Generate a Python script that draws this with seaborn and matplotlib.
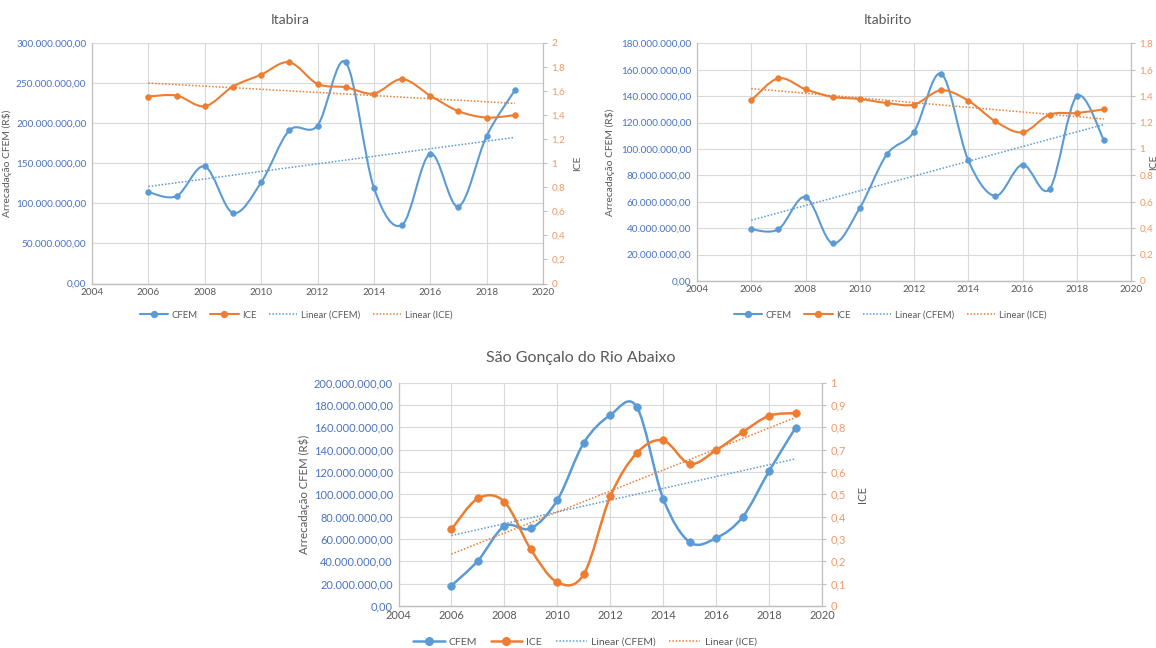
import numpy as np
import pandas as pd
import seaborn as sns
import matplotlib.pyplot as plt
from matplotlib.path import Path
from matplotlib.patches import PathPatch
from matplotlib.lines import Line2D
from matplotlib.ticker import FuncFormatter, MultipleLocator

sns.set_theme(style="white")
plt.rcParams['font.family'] = ['Lato', 'DejaVu Sans']

anos = list(range(2006, 2020))

# Itabira
itabira_cfem = [114, 109, 146, 88, 126, 191, 197, 276, 119.5, 73, 162, 96, 184, 241]
itabira_ice = [1.555, 1.563, 1.474, 1.638, 1.737, 1.84, 1.66, 1.632, 1.58, 1.70, 1.563, 1.433, 1.38, 1.40]

# Itabirito
itabirito_cfem = [39.1, 39.2, 63.6, 28.5, 55.3, 95.9, 113, 157, 91.4, 64.4, 88.1, 69.7, 139.9, 106.8]
itabirito_ice = [1.368, 1.535, 1.452, 1.394, 1.378, 1.348, 1.336, 1.444, 1.366, 1.209, 1.126, 1.26, 1.272, 1.30]

# Sao Goncalo do Rio Abaixo
sgra_cfem = [18.2, 40.5, 71.5, 69.4, 94.8, 146, 170.8, 178.2, 96, 57.2, 60.8, 79.6, 120.7, 159.5]
sgra_ice = [0.343, 0.481, 0.466, 0.253, 0.106, 0.142, 0.49, 0.684, 0.741, 0.636, 0.697, 0.778, 0.851, 0.863]

AZUL = '#5B9BD5'
LARANJA = '#ED7D31'
CINZA = '#595959'
GRADE = '#D9D9D9'


def curva_suave(x, y):
    # curva tipo "linha suavizada" do Excel (Bezier pelos vizinhos)
    p = np.column_stack([x, y]).astype(float)
    ext = np.vstack([p[0], p, p[-1]])
    verts = [p[0]]
    codes = [Path.MOVETO]
    for i in range(len(p) - 1):
        c1 = ext[i + 1] + (ext[i + 2] - ext[i]) / 6
        c2 = ext[i + 2] - (ext[i + 3] - ext[i + 1]) / 6
        verts += [c1, c2, p[i + 1]]
        codes += [Path.CURVE4] * 3
    return Path(verts, codes)


def fmt_reais(v, pos):
    s = f"{v:,.2f}"
    return s.replace(',', 'X').replace('.', ',').replace('X', '.')


def fmt_ice(v, pos):
    return f"{round(v, 2):g}".replace('.', ',')


def grafico(rect, titulo, cfem, ice, ymax, ypasso, icemax, icepasso, tit_xy, leg_xy,
            lab_x, ice_x, fs, lfs, tfs, lw, ms):
    df = pd.DataFrame({'ano': anos, 'cfem': np.array(cfem) * 1e6, 'ice': ice})
    ax = fig.add_axes(rect)
    ax2 = ax.twinx()

    ax.add_patch(PathPatch(curva_suave(df.ano, df.cfem), fill=False, edgecolor=AZUL, lw=lw))
    sns.scatterplot(data=df, x='ano', y='cfem', ax=ax, color=AZUL, s=ms, edgecolor=AZUL, zorder=3)
    sns.regplot(data=df, x='ano', y='cfem', ax=ax, scatter=False, ci=None, truncate=True,
                line_kws={'color': AZUL, 'ls': (0, (1, 1.2)), 'lw': 1.1})

    ax2.add_patch(PathPatch(curva_suave(df.ano, df.ice), fill=False, edgecolor=LARANJA, lw=lw))
    sns.scatterplot(data=df, x='ano', y='ice', ax=ax2, color=LARANJA, s=ms, edgecolor=LARANJA, zorder=3)
    sns.regplot(data=df, x='ano', y='ice', ax=ax2, scatter=False, ci=None, truncate=True,
                line_kws={'color': LARANJA, 'ls': (0, (1, 1.2)), 'lw': 1.1})

    ax.set_xlim(2004, 2020)
    ax.xaxis.set_major_locator(MultipleLocator(2))
    ax.set_ylim(0, ymax * 1e6)
    ax.yaxis.set_major_locator(MultipleLocator(ypasso * 1e6))
    ax.yaxis.set_major_formatter(FuncFormatter(fmt_reais))
    ax2.set_ylim(0, icemax)
    ax2.yaxis.set_major_locator(MultipleLocator(icepasso))
    ax2.yaxis.set_major_formatter(FuncFormatter(fmt_ice))

    ax.grid(True, color=GRADE, lw=0.8)
    ax.set_axisbelow(True)
    for a in (ax, ax2):
        a.spines['top'].set_visible(False)
        for s in ('left', 'right', 'bottom'):
            a.spines[s].set_color('#BFBFBF')
            a.spines[s].set_linewidth(0.8)
    ax.spines['bottom'].set_linewidth(1.0)

    ax.tick_params(axis='x', labelsize=fs, colors=CINZA, length=0, pad=3)
    ax.tick_params(axis='y', labelsize=fs, labelcolor='#4A72C0', length=0, pad=4)
    ax2.tick_params(axis='y', labelsize=fs, labelcolor='#EE9A68', color='#BFBFBF',
                    length=3, width=0.8, pad=3)

    ax.set_xlabel('')
    ax.set_ylabel('Arrecadação CFEM (R$)', fontsize=lfs, color=CINZA)
    ax.yaxis.set_label_coords(lab_x, 0.5)
    ax2.set_ylabel('ICE', fontsize=lfs, color=CINZA)
    ax2.yaxis.set_label_coords(ice_x, 0.5)

    fig.text(tit_xy[0] / 1156, 1 - tit_xy[1] / 648, titulo, ha='center', va='center',
             fontsize=tfs, color=CINZA)

    handles = [
        Line2D([], [], color=AZUL, lw=lw, marker='o', markersize=np.sqrt(ms)),
        Line2D([], [], color=LARANJA, lw=lw, marker='o', markersize=np.sqrt(ms)),
        Line2D([], [], color=AZUL, lw=1.1, ls=(0, (1, 1.2))),
        Line2D([], [], color=LARANJA, lw=1.1, ls=(0, (1, 1.2))),
    ]
    leg = ax.legend(handles, ['CFEM', 'ICE', 'Linear (CFEM)', 'Linear (ICE)'], loc='center',
                    bbox_to_anchor=(leg_xy[0] / 1156, 1 - leg_xy[1] / 648),
                    bbox_transform=fig.transFigure, ncol=4, frameon=False, fontsize=fs - 0.4,
                    handlelength=3.0, columnspacing=1.3, handletextpad=0.4)
    for t in leg.get_texts():
        t.set_color(CINZA)


fig = plt.figure(figsize=(11.56, 6.48), dpi=100)

grafico([92 / 1156, 1 - 283.5 / 648, 451 / 1156, 240.5 / 648], 'Itabira',
        itabira_cfem, itabira_ice, 300, 50, 2, 0.2, (290, 20), (296, 315),
        -0.178, 1.066, 7.2, 7.4, 10, 1.5, 18)
grafico([697 / 1156, 1 - 281 / 648, 434 / 1156, 237.7 / 648], 'Itabirito',
        itabirito_cfem, itabirito_ice, 180, 20, 1.8, 0.2, (888, 20), (890, 315),
        -0.19, 1.041, 7.2, 7.4, 10, 1.5, 18)
grafico([398.5 / 1156, 1 - 606 / 648, 423.5 / 1156, 223.5 / 648], 'São Gonçalo do Rio Abaixo',
        sgra_cfem, sgra_ice, 200, 20, 1, 0.1, (581, 358), (585, 642),
        -0.21, 1.083, 7.9, 8.2, 11.5, 1.8, 30)

fig.savefig('out.png', dpi=100, facecolor='white')
